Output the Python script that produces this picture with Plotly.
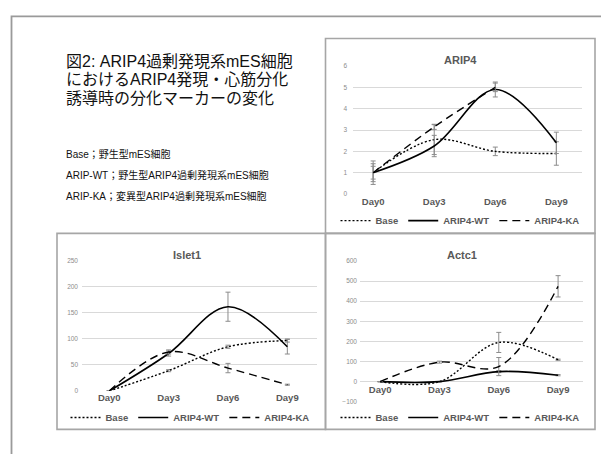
import plotly.graph_objects as go

W, H = 601, 454

# ---------------- data ----------------
days = ["Day0", "Day3", "Day6", "Day9"]
series_names = ["Base", "ARIP4-WT", "ARIP4-KA"]

arip4_base = [1.0, 2.55, 2.0, 1.9]
arip4_base_err = [0.55, 0.7, 0.2, 0.55]
arip4_wt = [1.0, 2.25, 4.9, 2.4]
arip4_wt_err = [0.42, 0.5, 0.35, 0.5]
arip4_ka = [1.0, 3.15, 5.0, None]
arip4_ka_err = [0.3, 0.12, 0.2, None]

islet1_base = [0, 39, 85, 97]
islet1_base_err = [0, 2, 3, 3]
islet1_wt = [0, 72, 162, 85]
islet1_wt_err = [0, 5, 28, 14]
islet1_ka = [0, 75, 44, 12]
islet1_ka_err = [0, 4, 9, 1]

actc1_base = [0, 0, 195, 109]
actc1_base_err = [0, 0, 50, 3]
actc1_wt = [0, 0, 50, 32]
actc1_wt_err = [0, 0, 5, 3]
actc1_ka = [0, 97, 75, 474]
actc1_ka_err = [0, 5, 45, 53]

panel_titles = ["ARIP4", "Islet1", "Actc1"]
yticks_arip4 = [0, 1, 2, 3, 4, 5, 6]
yticks_islet1 = [0, 50, 100, 150, 200, 250]
yticks_actc1 = [-100, 0, 100, 200, 300, 400, 500, 600]

main_title_lines = ["図2: ARIP4過剰発現系mES細胞",
                    "におけるARIP4発現・心筋分化",
                    "誘導時の分化マーカーの変化"]
note_lines = ["Base；野生型mES細胞",
              "ARIP-WT；野生型ARIP4過剰発現系mES細胞",
              "ARIP-KA；変異型ARIP4過剰発現系mES細胞"]

# ---------------- helpers ----------------
def px(x):
    return x / W

def py(y):
    return 1 - y / H

FONT = "Liberation Sans, Arial, Noto Sans CJK JP, sans-serif"
DASHES = ["2px,2px", "solid", "8px,5px"]
GRID = "#d9d9d9"
TXT = "#595959"
ERR = "#8c8c8c"

fig = go.Figure()

panels = [
    ("x", "y", "legend", [arip4_base, arip4_wt, arip4_ka],
     [arip4_base_err, arip4_wt_err, arip4_ka_err]),
    ("x2", "y2", "legend2", [islet1_base, islet1_wt, islet1_ka],
     [islet1_base_err, islet1_wt_err, islet1_ka_err]),
    ("x3", "y3", "legend3", [actc1_base, actc1_wt, actc1_ka],
     [actc1_base_err, actc1_wt_err, actc1_ka_err]),
]

for xa, ya, lg, vals, errs in panels:
    for name, v, e, dash in zip(series_names, vals, errs, DASHES):
        fig.add_trace(go.Scatter(
            x=days, y=v, name=name, mode="lines",
            line=dict(color="black", width=1.6 if dash == "solid" else 1.4,
                      dash=dash, shape="spline", smoothing=1.0),
            error_y=dict(type="data", array=e, visible=True, color=ERR,
                         thickness=1, width=2.5),
            xaxis=xa, yaxis=ya, legend=lg, connectgaps=False,
        ))

axis_common = dict(showline=False, zeroline=False, ticks="",
                   fixedrange=True)
xfont = dict(family=FONT, size=9.5, color=TXT, weight="bold")
yfont = dict(family=FONT, size=6.5, color="#8c8c8c")

fig.update_layout(
    xaxis=dict(domain=[px(353), px(582)], anchor="y",
               range=[-0.33, 3.42], showgrid=False, tickfont=xfont,
               **axis_common),
    yaxis=dict(domain=[py(193), py(63)], anchor="x", range=[0, 6],
               tickvals=yticks_arip4, gridcolor=GRID, gridwidth=1,
               tickfont=yfont, ticklabelstandoff=5, **axis_common),
    xaxis2=dict(domain=[px(82), px(317)], anchor="y2",
                range=[-0.46, 3.5], showgrid=False, tickfont=xfont,
                **axis_common),
    yaxis2=dict(domain=[py(393), py(261)], anchor="x2", range=[0, 250],
                tickvals=yticks_islet1, gridcolor=GRID, gridwidth=1,
                tickfont=yfont, ticklabelstandoff=3, **axis_common),
    xaxis3=dict(domain=[px(360), px(583)], anchor="free",
                position=py(384), range=[-0.34, 3.42], showgrid=False,
                tickfont=xfont, **axis_common),
    yaxis3=dict(domain=[py(404), py(261)], anchor="x3", range=[-100, 600],
                tickvals=yticks_actc1, gridcolor=GRID, gridwidth=1,
                tickfont=yfont, ticklabelstandoff=2, **axis_common),
)

legend_common = dict(orientation="h", xanchor="center", yanchor="middle",
                     font=dict(family=FONT, size=9.5, color=TXT, weight="bold"),
                     bgcolor="rgba(0,0,0,0)", itemclick=False,
                     itemdoubleclick=False, tracegroupgap=0)
fig.update_layout(
    legend=dict(x=px(460), y=py(220), **legend_common),
    legend2=dict(x=px(190), y=py(420), **legend_common),
    legend3=dict(x=px(460), y=py(420), **legend_common),
)

# frames
BORDER = "#a6a6a6"
shapes = [
    dict(type="path", path="M {} {} L {} {} L {} {}".format(
        px(11.5), py(470), px(11.5), py(12.5), px(620), py(12.5)),
        xref="paper", yref="paper", line=dict(color="#9a9a9a", width=1.8)),
    dict(type="rect", x0=px(325.5), x1=px(595), y0=py(233), y1=py(35),
         xref="paper", yref="paper", line=dict(color=BORDER, width=1.6)),
    dict(type="rect", x0=px(57), x1=px(325.5), y0=py(432), y1=py(233),
         xref="paper", yref="paper", line=dict(color=BORDER, width=1.6)),
    dict(type="rect", x0=px(325.5), x1=px(595), y0=py(432), y1=py(233),
         xref="paper", yref="paper", line=dict(color=BORDER, width=1.6)),
]
fig.update_layout(shapes=shapes)

annotations = []
for title, (cx, cy) in zip(panel_titles, [(460, 57), (187, 255), (462, 255)]):
    annotations.append(dict(text=title, x=px(cx), y=py(cy), xref="paper",
                            yref="paper", showarrow=False, xanchor="center",
                            yanchor="middle",
                            font=dict(family=FONT, size=11, color=TXT,
                                      weight="bold")))
for i, line in enumerate(main_title_lines):
    annotations.append(dict(text=line, x=px(64), y=py(58 + i * 18.7),
                            xref="paper", yref="paper", showarrow=False,
                            xanchor="left", yanchor="middle",
                            font=dict(family=FONT, size=16, color="#111111")))
for i, line in enumerate(note_lines):
    annotations.append(dict(text=line, x=px(64), y=py(152 + i * 21.5),
                            xref="paper", yref="paper", showarrow=False,
                            xanchor="left", yanchor="middle",
                            font=dict(family=FONT, size=10, color="#111111")))
fig.update_layout(annotations=annotations)

fig.update_layout(
    width=W, height=H, margin=dict(l=0, r=0, t=0, b=0),
    paper_bgcolor="white", plot_bgcolor="white",
    font=dict(family=FONT), showlegend=True,
)

fig.write_html("out.html", config={"displayModeBar": False},
               post_script="document.body.style.margin='0';")
